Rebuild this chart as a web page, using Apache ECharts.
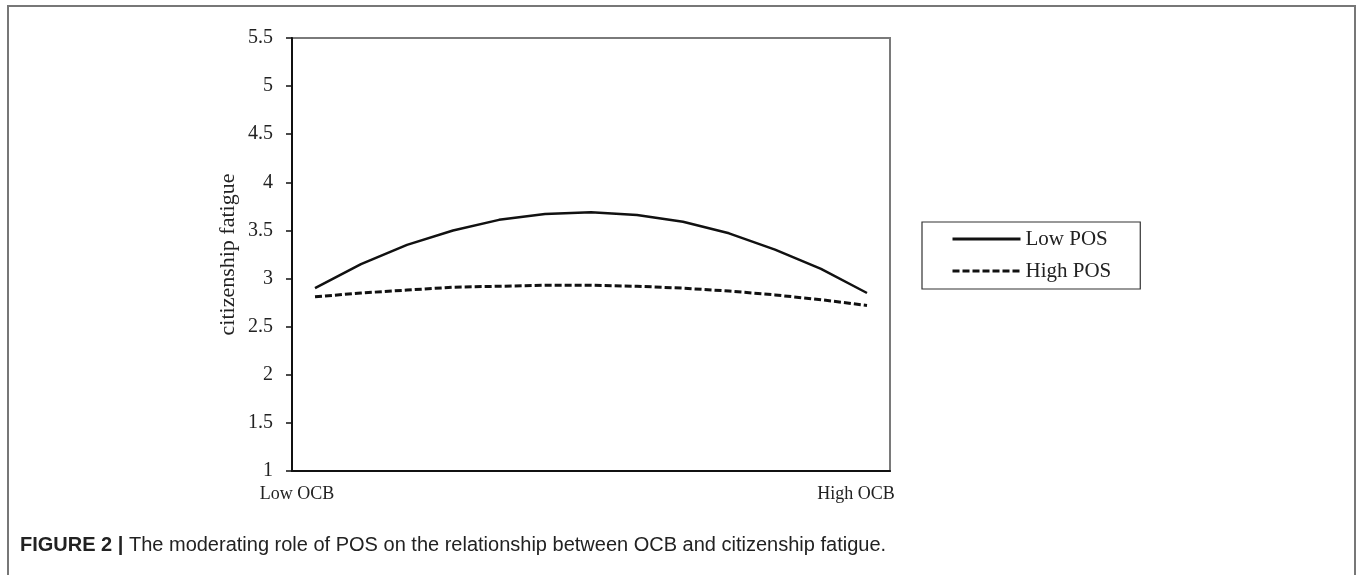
<!DOCTYPE html>
<html>
<head>
<meta charset="utf-8">
<script src="https://cdn.jsdelivr.net/npm/echarts@6/dist/echarts.min.js"></script>
<style>
html,body{margin:0;padding:0;background:#fff;}
#chart{width:1357px;height:575px;}
</style>
</head>
<body>
<div id="chart"></div>
<script>
var categories = ['Low OCB','','','','','','','','','','','','High OCB'];
var lowPOS  = [2.90, 3.15, 3.35, 3.50, 3.61, 3.67, 3.69, 3.66, 3.59, 3.47, 3.30, 3.10, 2.85];
var highPOS = [2.81, 2.85, 2.88, 2.91, 2.92, 2.93, 2.93, 2.92, 2.90, 2.87, 2.83, 2.78, 2.72];
var yTicks = {min: 1, max: 5.5, interval: 0.5};
var seriesNames = ['Low POS', 'High POS'];
var yTitle = 'citizenship fatigue';
var captionBold = 'FIGURE 2 |';
var captionText = ' The moderating role of POS on the relationship between OCB and citizenship fatigue.';

var chart = echarts.init(document.getElementById('chart'), null, {renderer: 'canvas'});
var serif = '"Liberation Serif", "Times New Roman", serif';
var sans = '"Liberation Sans", Arial, Helvetica, sans-serif';

var xData = categories.map(function (c, i) {
  if (i === 0) return {value: c, textStyle: {padding: [0, 36, 0, 0]}};
  if (i === categories.length - 1) return {value: c, textStyle: {padding: [0, 22, 0, 0]}};
  return c;
});

chart.setOption({
  animation: false,
  backgroundColor: '#fff',
  grid: {left: 292, right: 467, top: 38, bottom: 104, show: true, borderColor: '#7a7a7a', borderWidth: 2},
  xAxis: {
    type: 'category',
    data: xData,
    boundaryGap: true,
    axisLine: {lineStyle: {color: '#111', width: 2}},
    axisTick: {show: false},
    axisLabel: {interval: 0, color: '#222', fontFamily: serif, fontSize: 18, margin: 14},
    splitLine: {show: false}
  },
  yAxis: {
    type: 'value',
    min: yTicks.min, max: yTicks.max, interval: yTicks.interval,
    name: yTitle,
    nameLocation: 'middle',
    nameGap: 53,
    nameRotate: 90,
    nameTextStyle: {color: '#222', fontFamily: serif, fontSize: 22},
    axisLine: {show: true, lineStyle: {color: '#111', width: 2}},
    axisTick: {show: true, length: 6, lineStyle: {color: '#111', width: 1.5}},
    axisLabel: {color: '#222', fontFamily: serif, fontSize: 20, margin: 19},
    splitLine: {show: false}
  },
  legend: {
    orient: 'vertical',
    left: 922, top: 222,
    borderColor: '#333', borderWidth: 1.2,
    padding: [6, 29, 7, 29],
    itemWidth: 68, itemHeight: 14, itemGap: 10,
    itemStyle: {opacity: 0},
    lineStyle: {width: 3},
    textStyle: {color: '#222', fontFamily: serif, fontSize: 21, lineHeight: 22},
    data: seriesNames
  },
  series: [
    {name: seriesNames[0], type: 'line', data: lowPOS, symbol: 'none', smooth: false,
     lineStyle: {color: '#111', width: 2.5, type: 'solid'}, itemStyle: {color: '#111'}},
    {name: seriesNames[1], type: 'line', data: highPOS, symbol: 'none', smooth: false,
     lineStyle: {color: '#111', width: 3, type: [7, 3]}, itemStyle: {color: '#111'}}
  ],
  graphic: [
    {type: 'rect', shape: {x: 8, y: 6, width: 1347, height: 600},
     style: {fill: null, stroke: '#777', lineWidth: 2}, silent: true},
    {type: 'text', left: 20, top: 535,
     style: {
       text: '{b|' + captionBold + '}{n|' + captionText + '}',
       rich: {
         b: {fontFamily: sans, fontWeight: 'bold', fontSize: 20, fill: '#222'},
         n: {fontFamily: sans, fontSize: 20, fill: '#222'}
       }
     }}
  ]
});
</script>
</body>
</html>
